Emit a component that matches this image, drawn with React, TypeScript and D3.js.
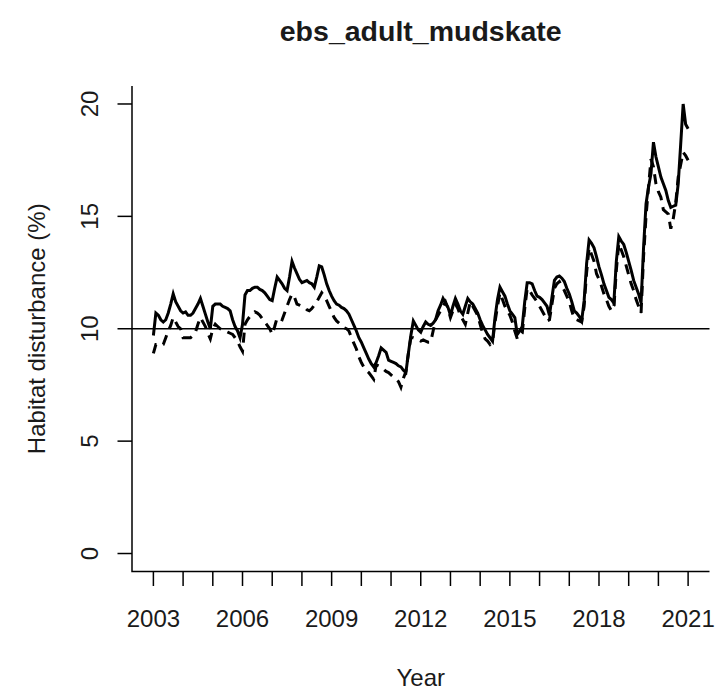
import React from "react";
import * as d3 from "d3";

const TITLE = "ebs_adult_mudskate";
const X_LABEL = "Year";
const Y_LABEL = "Habitat disturbance (%)";
const START_YEAR = 2003;
const X_TICKS = [2003, 2004, 2005, 2006, 2007, 2008, 2009, 2010, 2011, 2012, 2013, 2014, 2015, 2016, 2017, 2018, 2019, 2020, 2021];
const X_TICK_LABELS = [2003, 2006, 2009, 2012, 2015, 2018, 2021];
const Y_TICKS = [0, 5, 10, 15, 20];
const REF_LINE = 10;

// monthly values, Jan 2003 .. Jan 2021
const SOLID = [
  9.7, 10.7, 10.6, 10.4, 10.3, 10.4, 10.7, 11.1, 11.55, 11.2, 11.0, 10.8,
  10.7, 10.75, 10.6, 10.6, 10.7, 10.9, 11.1, 11.35, 11.0, 10.65, 10.3, 10.0,
  11.0, 11.1, 11.1, 11.1, 11.0, 10.95, 10.9, 10.8, 10.4, 10.1, 9.9, 9.6,
  10.2, 11.5, 11.7, 11.7, 11.8, 11.85, 11.85, 11.75, 11.7, 11.6, 11.45, 11.3,
  11.25, 11.8, 12.3, 12.15, 12.0, 11.8, 11.7, 12.3, 13.0, 12.7, 12.45, 12.2,
  12.05, 12.1, 12.15, 12.05, 12.0, 11.85, 12.3, 12.8, 12.75, 12.4, 12.0, 11.7,
  11.45, 11.25, 11.1, 11.05, 10.95, 10.9, 10.8, 10.65, 10.4, 10.15, 9.9, 9.6,
  9.4, 9.15, 8.9, 8.65, 8.45, 8.3, 8.5, 8.8, 9.15, 9.05, 8.95, 8.6,
  8.55, 8.5, 8.45, 8.35, 8.3, 8.15, 8.05, 8.9, 9.7, 10.35, 10.15, 9.95,
  9.85, 10.1, 10.3, 10.2, 10.15, 10.25, 10.4, 10.8, 11.05, 11.35, 11.15, 10.95,
  10.6, 11.0, 11.35, 11.1, 10.8, 10.65, 11.0, 11.35, 11.2, 11.1, 10.9, 10.7,
  10.4, 10.15, 9.95, 9.75, 9.6, 9.45, 10.5, 11.3, 11.85, 11.65, 11.45, 11.1,
  10.8, 10.65, 10.5, 9.75, 9.9, 10.1, 11.2, 12.05, 12.05, 12.0, 11.7, 11.45,
  11.4, 11.3, 11.15, 11.0, 10.6, 11.4, 12.15, 12.3, 12.35, 12.25, 12.1, 11.8,
  11.55, 11.2, 10.8, 10.7, 10.55, 10.35, 11.25, 12.9, 13.95, 13.8, 13.6, 13.2,
  12.75, 12.4, 12.0, 11.7, 11.4, 11.3, 11.15, 13.0, 14.1, 13.9, 13.75, 13.4,
  13.0, 12.6, 12.15, 11.85, 11.55, 11.15, 13.6, 15.55, 16.3, 16.9, 18.3, 17.65,
  17.2, 16.75, 16.45, 16.15, 15.7, 15.4, 15.45, 15.5, 16.45, 18.2, 20.0, 19.1,
  18.9,
];

const DASHED = [
  8.9, 9.3, 9.3, 9.25, 9.3, 9.6, 9.9, 10.15, 10.5, 10.3, 10.1, 10.0,
  9.6, 9.6, 9.6, 9.6, 9.7, 9.85, 10.2, 10.5, 10.3, 10.1, 9.8, 9.55,
  10.0, 10.2, 10.1, 10.0, 9.95, 9.9, 9.85, 9.8, 9.75, 9.6, 9.45, 9.2,
  9.0, 10.2, 10.4, 10.55, 10.65, 10.75, 10.7, 10.6, 10.45, 10.3, 10.15, 10.0,
  9.75, 10.1, 10.5, 10.45, 10.4, 10.7, 11.0, 11.3, 11.55, 11.4, 11.1, 11.05,
  11.0, 10.95, 10.85, 10.8, 10.9, 11.05, 11.2, 11.4, 11.6, 11.45, 11.25, 11.0,
  10.75, 10.5, 10.35, 10.25, 10.15, 10.05, 10.0, 9.9, 9.6, 9.35, 9.1, 8.75,
  8.5, 8.3, 8.15, 8.05, 7.9, 7.75, 8.4, 8.35, 8.3, 8.2, 8.1, 8.05,
  7.95, 7.85, 7.75, 7.65, 7.4, 7.8, 8.1, 8.9, 9.6, 9.6, 9.55, 9.5,
  9.45, 9.5, 9.45, 9.4, 9.4, 9.9, 10.4, 10.6, 10.8, 11.0, 11.2, 10.9,
  10.5, 10.8, 11.1, 10.9, 10.6, 10.4, 10.2, 10.7, 11.2, 11.0, 10.8, 10.6,
  10.2, 9.8, 9.55, 9.45, 9.3, 9.4, 10.3, 11.0, 11.6, 11.3, 11.0, 10.8,
  10.6, 10.3, 9.9, 9.55, 9.65, 9.8, 10.9, 11.8, 11.7, 11.5, 11.35, 11.2,
  11.0, 10.8, 10.6, 10.35, 10.4, 11.1, 11.8, 12.0, 12.1, 11.9, 11.7, 11.45,
  11.2, 10.8, 10.45, 10.4, 10.35, 10.3, 11.0, 12.5, 13.6, 13.3, 13.0, 12.45,
  12.2, 11.9, 11.55, 11.3, 11.0, 10.8, 10.9, 12.6, 13.8, 13.5, 13.2, 12.8,
  12.4, 12.0, 11.7, 11.3, 11.0, 10.7, 13.2, 15.0, 16.3, 17.55, 17.2, 16.45,
  16.1, 15.85, 15.3, 15.2, 15.1, 14.45, 14.9, 15.6, 16.75, 17.3, 17.85, 17.7,
  17.5,
];

const W = 718;
const H = 694;
const FONT = "'Liberation Sans', Arial, sans-serif";
const TEXT = "#1a1a1a";

export default function App() {
  const x = d3.scaleLinear().domain([2003 - 0.72, 2021 + 0.72]).range([132, 709.5]);
  const y = d3.scaleLinear().domain([-0.8, 20.8]).range([571.5, 86]);
  const toPts = (arr: number[]) => arr.map((v, i) => [START_YEAR + i / 12, v] as [number, number]);
  const line = d3
    .line<[number, number]>()
    .x((d) => x(d[0]))
    .y((d) => y(d[1]));
  const x0 = x.range()[0];
  const x1 = x.range()[1];
  const yb = y.range()[0];
  const yt = y.range()[1];
  const tick = 14.5;
  return (
    <svg width={W} height={H} style={{ position: "absolute", left: 0, top: 0, background: "#fff" }}>
      <rect x={0} y={0} width={W} height={H} fill="#fff" />
      <text x={(x0 + x1) / 2} y={41} textAnchor="middle" fontFamily={FONT} fontWeight="bold" fontSize={28.5} fill={TEXT}>
        {TITLE}
      </text>
      {/* L box */}
      <path d={`M${x0},${yt}V${yb}H${x1}`} fill="none" stroke="#000" strokeWidth={1.5} />
      {/* x ticks */}
      {X_TICKS.map((t) => (
        <line key={t} x1={x(t)} x2={x(t)} y1={yb} y2={yb + tick} stroke="#000" strokeWidth={1.5} />
      ))}
      {X_TICK_LABELS.map((t) => (
        <text key={t} x={x(t)} y={627} textAnchor="middle" fontFamily={FONT} fontSize={24} fill={TEXT}>
          {t}
        </text>
      ))}
      <text x={(x0 + x1) / 2} y={686} textAnchor="middle" fontFamily={FONT} fontSize={24} fill={TEXT}>
        {X_LABEL}
      </text>
      {/* y ticks */}
      {Y_TICKS.map((t) => (
        <g key={t}>
          <line x1={x0 - tick} x2={x0} y1={y(t)} y2={y(t)} stroke="#000" strokeWidth={1.5} />
          <text
            transform={`translate(${x0 - 34},${y(t)}) rotate(-90)`}
            textAnchor="middle"
            fontFamily={FONT}
            fontSize={24}
            fill={TEXT}
          >
            {t}
          </text>
        </g>
      ))}
      <text
        transform={`translate(45,${(yt + yb) / 2}) rotate(-90)`}
        textAnchor="middle"
        fontFamily={FONT}
        fontSize={24}
        fill={TEXT}
      >
        {Y_LABEL}
      </text>
      {/* reference line */}
      <line x1={x0} x2={x1} y1={y(REF_LINE)} y2={y(REF_LINE)} stroke="#000" strokeWidth={1.5} />
      {/* series */}
      <path d={line(toPts(DASHED)) || ""} fill="none" stroke="#000" strokeWidth={3} strokeDasharray="10,7" />
      <path d={line(toPts(SOLID)) || ""} fill="none" stroke="#000" strokeWidth={3} />
    </svg>
  );
}
